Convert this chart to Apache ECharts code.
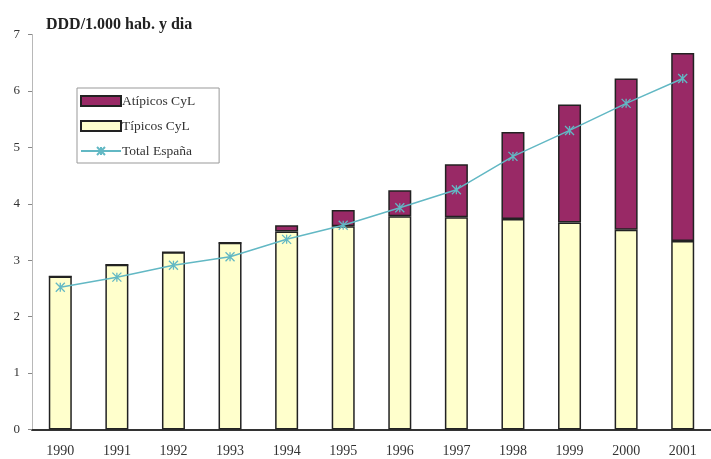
<!DOCTYPE html>
<html>
<head>
<meta charset="utf-8">
<script src="https://cdn.jsdelivr.net/npm/echarts@6/dist/echarts.min.js"></script>
<style>
html,body{margin:0;padding:0;background:#fff;}
#c{width:711px;height:459px;}
</style>
</head>
<body>
<div id="c"></div>
<script>
var years = ['1990','1991','1992','1993','1994','1995','1996','1997','1998','1999','2000','2001'];
var tipicos = [2.71, 2.92, 3.14, 3.31, 3.51, 3.60, 3.78, 3.76, 3.73, 3.67, 3.54, 3.34];
var atipicos = [0, 0, 0, 0, 0.11, 0.29, 0.46, 0.94, 1.54, 2.09, 2.68, 3.33];
var totalEspana = [2.52, 2.70, 2.91, 3.06, 3.37, 3.62, 3.93, 4.25, 4.84, 5.30, 5.78, 6.22];
var yTicks = [0, 1, 2, 3, 4, 5, 6, 7];

var serif = '"Liberation Serif", "DejaVu Serif", serif';
var chart = echarts.init(document.getElementById('c'));
chart.setOption({
  backgroundColor: '#ffffff',
  animation: false,
  title: {
    text: 'DDD/1.000 hab. y dia',
    left: 41, top: 12,
    textStyle: {fontFamily: serif, fontWeight: 'bold', fontSize: 16, color: '#222'}
  },
  legend: {
    orient: 'vertical',
    left: 77, top: 88,
    padding: [6, 24, 5, 3],
    itemGap: 11,
    itemWidth: 40, itemHeight: 10,
    backgroundColor: '#fff',
    borderColor: '#999', borderWidth: 1,
    textStyle: {fontFamily: serif, fontSize: 13.5, color: '#333', padding: [0, 0, 0, -4]},
    data: [
      {name: 'Atípicos CyL', icon: 'rect'},
      {name: 'Típicos CyL', icon: 'rect'},
      {name: 'Total España'}
    ]
  },
  grid: {left: 32, right: -9, top: 34.5, bottom: 29.5, containLabel: false},
  xAxis: {
    type: 'category',
    data: years,
    axisLine: {lineStyle: {color: '#333', width: 2}},
    axisTick: {show: false},
    axisLabel: {fontFamily: serif, fontSize: 14, color: '#333', margin: 15, interval: 0}
  },
  yAxis: {
    type: 'value',
    min: yTicks[0], max: yTicks[yTicks.length - 1], interval: 1,
    axisLine: {show: true, lineStyle: {color: '#b8b8b8', width: 1}},
    axisTick: {show: true, length: 4, lineStyle: {color: '#888'}},
    splitLine: {show: false},
    axisLabel: {fontFamily: serif, fontSize: 13, color: '#333', margin: 12}
  },
  series: [
    {
      name: 'Típicos CyL',
      type: 'bar',
      stack: 'cyl',
      barWidth: 23,
      data: tipicos,
      itemStyle: {color: '#ffffcc', borderColor: '#222', borderWidth: 1.5}
    },
    {
      name: 'Atípicos CyL',
      type: 'bar',
      stack: 'cyl',
      barWidth: 23,
      data: atipicos,
      itemStyle: {color: '#992966', borderColor: '#222', borderWidth: 1.5}
    },
    {
      name: 'Total España',
      type: 'line',
      data: totalEspana,
      symbol: 'path://M0,0L10,10M10,0L0,10M5,0L5,10',
      symbolSize: 9,
      showAllSymbol: true,
      lineStyle: {color: '#62b8c4', width: 1.5},
      itemStyle: {color: 'rgba(0,0,0,0)', borderColor: '#62b8c4', borderWidth: 1.3},
      z: 5
    }
  ]
});
</script>
</body>
</html>
